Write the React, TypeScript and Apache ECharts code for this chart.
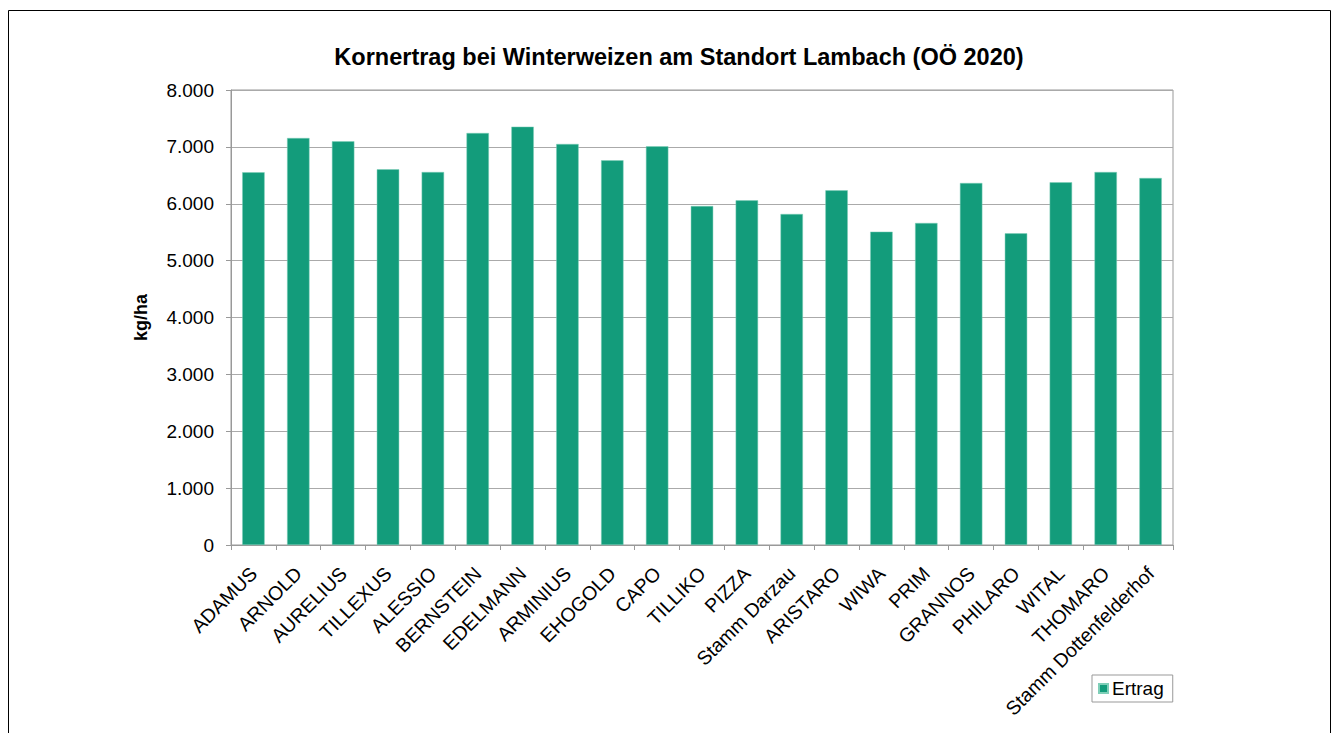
import React, { useEffect, useRef } from "react";
import * as echarts from "echarts";

const categories = [
  "ADAMUS", "ARNOLD", "AURELIUS", "TILLEXUS", "ALESSIO", "BERNSTEIN", "EDELMANN",
  "ARMINIUS", "EHOGOLD", "CAPO", "TILLIKO", "PIZZA", "Stamm Darzau", "ARISTARO",
  "WIWA", "PRIM", "GRANNOS", "PHILARO", "WITAL", "THOMARO", "Stamm Dottenfelderhof",
];
const ertrag = [
  6553, 7156, 7098, 6606, 6558, 7244, 7355, 7051, 6764, 7010, 5960, 6060, 5820,
  6236, 5509, 5662, 6365, 5480, 6377, 6558, 6453,
];
const seriesName = "Ertrag";
const titleText = "Kornertrag bei Winterweizen am Standort Lambach (OÖ 2020)";
const yAxisName = "kg/ha";

const FONT = "'Liberation Sans', Arial, Helvetica, sans-serif";

export default function App() {
  const ref = useRef<HTMLDivElement>(null);
  useEffect(() => {
    if (!ref.current) return;
    const chart = echarts.init(ref.current, undefined, { renderer: "svg" });
    chart.setOption({
      animation: false,
      textStyle: { fontFamily: FONT, color: "#000" },
      graphic: [
        {
          type: "rect",
          shape: { x: 8.5, y: 10.5, width: 1322, height: 740 },
          style: { fill: "none", stroke: "#000", lineWidth: 1 },
          silent: true,
        },
      ],
      title: {
        text: titleText,
        left: 674,
        top: 40,
        textAlign: "center",
        textStyle: { fontFamily: FONT, fontSize: 23.5, fontWeight: "bold", color: "#000" },
      },
      legend: {
        data: [seriesName],
        left: 1092,
        top: 675,
        orient: "horizontal",
        icon: "rect",
        itemWidth: 9,
        itemHeight: 9,
        itemGap: 4,
        padding: [4, 9, 4, 6],
        borderColor: "#999",
        borderWidth: 1,
        textStyle: { fontFamily: FONT, fontSize: 19, color: "#000", padding: [0, 0, 0, -1] },
      },
      grid: {
        left: 231,
        right: 163,
        top: 90,
        bottom: 188,
        show: true,
        borderColor: "#999",
        borderWidth: 1,
        containLabel: false,
      },
      xAxis: {
        type: "category",
        data: categories,
        boundaryGap: true,
        axisLine: { lineStyle: { color: "#999" } },
        axisTick: { show: true, length: 5, alignWithLabel: false, lineStyle: { color: "#999" } },
        axisLabel: {
          rotate: 45,
          interval: 0,
          margin: 25,
          fontFamily: FONT,
          fontSize: 19.5,
          color: "#000",
        },
      },
      yAxis: {
        type: "value",
        min: 0,
        max: 8000,
        interval: 1000,
        name: yAxisName,
        nameLocation: "middle",
        nameGap: 81,
        nameTextStyle: { fontFamily: FONT, fontSize: 18, fontWeight: "bold", color: "#000" },
        axisLine: { show: true, lineStyle: { color: "#999" } },
        axisTick: { show: true, length: 5, lineStyle: { color: "#999" } },
        splitLine: { lineStyle: { color: "#aaa", width: 1 } },
        axisLabel: {
          margin: 17,
          fontFamily: FONT,
          fontSize: 19,
          color: "#000",
          formatter: (v: number) =>
            v === 0 ? "0" : v.toString().replace(/\B(?=(\d{3})+(?!\d))/g, "."),
        },
      },
      series: [
        {
          name: seriesName,
          type: "bar",
          data: ertrag,
          barWidth: "50%",
          itemStyle: { color: "#139C7B", borderColor: "#7fcfb8", borderWidth: 0.5 },
        },
      ],
    });
    return () => chart.dispose();
  }, []);
  return (
    <div
      ref={ref}
      style={{ position: "absolute", left: 0, top: 0, width: 1336, height: 733, background: "#fff" }}
    />
  );
}
